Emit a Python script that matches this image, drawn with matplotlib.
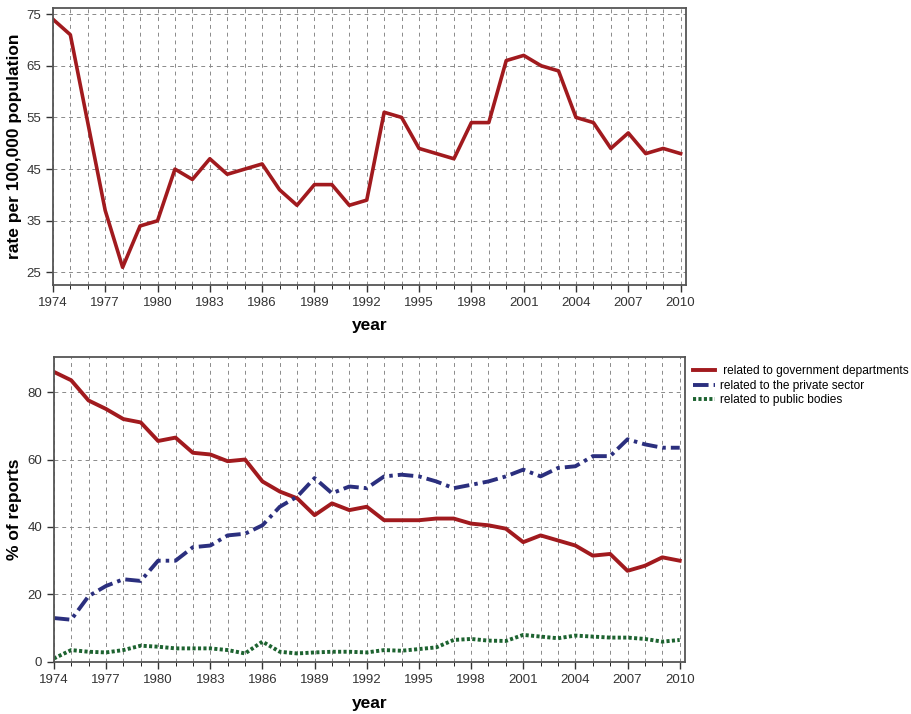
import matplotlib
matplotlib.use("Agg")
import matplotlib.pyplot as plt
from matplotlib.ticker import MultipleLocator

plt.rcParams['font.family'] = ['Liberation Sans', 'DejaVu Sans']

# datos
years = list(range(1974, 2011))
rate = [74, 71, 54, 37, 26, 34, 35, 45, 43, 47, 44, 45, 46, 41, 38, 42, 42, 38, 39,
        56, 55, 49, 48, 47, 54, 54, 66, 67, 65, 64, 55, 54, 49, 52, 48, 49, 48]
gov = [86, 83.5, 77.5, 75, 72, 71, 65.5, 66.5, 62, 61.5, 59.5, 60, 53.5, 50.5, 48.5,
       43.5, 47, 45, 46, 42, 42, 42, 42.5, 42.5, 41, 40.5, 39.5, 35.5, 37.5, 36, 34.5,
       31.5, 32, 27, 28.5, 31, 30]
private = [13, 12.5, 19.5, 22.5, 24.5, 24, 30, 30, 34, 34.5, 37.5, 38, 40.5, 46, 49,
           54.5, 50, 52, 51.5, 55, 55.5, 55, 53.5, 51.5, 52.5, 53.5, 55, 57, 55, 57.5,
           58, 61, 61, 66, 64.5, 63.5, 63.5]
public = [1, 3.5, 3, 2.8, 3.5, 4.8, 4.5, 4, 4, 4, 3.5, 2.5, 6, 3, 2.5, 2.8, 3, 3, 2.8,
          3.5, 3.3, 3.8, 4.3, 6.5, 6.8, 6.3, 6.2, 8, 7.5, 7, 7.8, 7.5, 7.2, 7.2, 6.8, 6, 6.5]
labels = [' related to government departments', 'related to the private sector',
          'related to public bodies']

rojo = '#A11A1E'
azul = '#2B2F7E'
verde = '#1D6330'

fig = plt.figure(figsize=(9.12, 7.14), dpi=100)
ax1 = fig.add_axes([0.058, 0.601, 0.694, 0.388])
ax2 = fig.add_axes([0.059, 0.073, 0.692, 0.427])


def estilo(ax, ylab_x, xlab_y):
    ax.set_xlim(1974, 2010.3)
    ax.xaxis.set_major_locator(MultipleLocator(3))
    ax.xaxis.set_minor_locator(MultipleLocator(1))
    ax.grid(which='both', axis='x', linestyle=(0, (4, 4)), color='#8a8a8a', linewidth=0.7)
    ax.grid(which='major', axis='y', linestyle=(0, (4, 4)), color='#8a8a8a', linewidth=0.7)
    ax.tick_params(which='major', direction='out', length=5, width=1, labelsize=9.5, colors='#333333')
    ax.tick_params(which='minor', direction='out', length=0)
    ax.tick_params(axis='x', which='minor', length=3)
    for s in ax.spines.values():
        s.set_color('#555555')
        s.set_linewidth(1.3)
    ax.set_xlabel('year', fontsize=12.5, fontweight='bold')
    ax.xaxis.set_label_coords(0.5, xlab_y)
    ax.yaxis.set_label_coords(ylab_x, 0.5)
    ax.set_axisbelow(True)


ax1.plot(years, rate, color=rojo, linewidth=2.6)
ax1.set_ylim(22.6, 76.2)
ax1.set_yticks([25, 35, 45, 55, 65, 75])
ax1.set_ylabel('rate per 100,000 population', fontsize=12.5, fontweight='bold', va='center')
estilo(ax1, -0.060, -0.118)

ax2.plot(years, gov, color=rojo, linewidth=2.8, label=labels[0])
ax2.plot(years, private, color=azul, linewidth=2.8, linestyle=(0, (4, 1.3, 0.9, 1.3)), label=labels[1])
ax2.plot(years, public, color=verde, linewidth=2.8, linestyle=(0, (0.8, 0.6)), label=labels[2])
ax2.set_ylim(0, 90.4)
ax2.set_yticks([0, 20, 40, 60, 80])
ax2.set_ylabel('% of reports', fontsize=12.5, fontweight='bold', va='center')
estilo(ax2, -0.062, -0.112)
ax2.legend(loc='upper left', bbox_to_anchor=(1.0, 1.0), frameon=False, fontsize=8.6,
           handlelength=1.8, handletextpad=0.4, labelspacing=0.2, borderaxespad=0.3)

fig.savefig('out.png', dpi=100)
